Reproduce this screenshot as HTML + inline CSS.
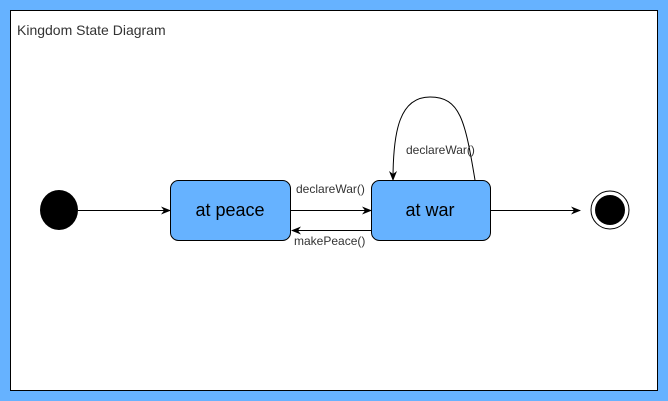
<!DOCTYPE html>
<html><head><style>
body{margin:0;width:668px;height:401px;overflow:hidden;background:#fff}
svg{display:block;font-family:"Liberation Sans",sans-serif}
</style></head><body>
<svg width="668" height="401" viewBox="0 0 668 401">
<defs><marker id="a" markerWidth="10" markerHeight="10" refX="9" refY="5" orient="auto" markerUnits="userSpaceOnUse"><path d="M0,1 L10,5 L0,9 L3,5 Z" fill="#000"/></marker></defs>
<rect x="0" y="0" width="668" height="401" fill="#66b2ff"/>
<rect x="10.5" y="10.5" width="647" height="380" fill="#fff" stroke="#000" stroke-width="1"/>
<text x="17" y="35" font-size="14" fill="#333">Kingdom State Diagram</text>
<ellipse cx="59" cy="210" rx="19" ry="20" fill="#000"/>
<rect x="170.5" y="180.5" width="120" height="60" rx="8" fill="#66b2ff" stroke="#000"/>
<text x="230" y="216" font-size="18" text-anchor="middle" fill="#000">at peace</text>
<rect x="371.5" y="180.5" width="119" height="60" rx="8" fill="#66b2ff" stroke="#000"/>
<text x="430" y="216" font-size="18" text-anchor="middle" fill="#000">at war</text>
<circle cx="610" cy="210" r="19" fill="#fff" stroke="#000"/>
<circle cx="610" cy="210" r="15" fill="#000"/>
<g stroke="#000" fill="none" stroke-width="1">
<line x1="78" y1="210.5" x2="170" y2="210.5" marker-end="url(#a)"/>
<line x1="290" y1="210.5" x2="371" y2="210.5" marker-end="url(#a)"/>
<line x1="371" y1="230.5" x2="292" y2="230.5" marker-end="url(#a)"/>
<line x1="491" y1="210.5" x2="580" y2="210.5" marker-end="url(#a)"/>
<path d="M475,180 C465,120 460,97 430,97 C400,97 393,130 393,180" marker-end="url(#a)"/>
</g>
<g font-size="12" fill="#333">
<text x="296" y="193">declareWar()</text>
<text x="294" y="245">makePeace()</text>
<text x="406" y="154">declareWar()</text>
</g>
</svg>
</body></html>
